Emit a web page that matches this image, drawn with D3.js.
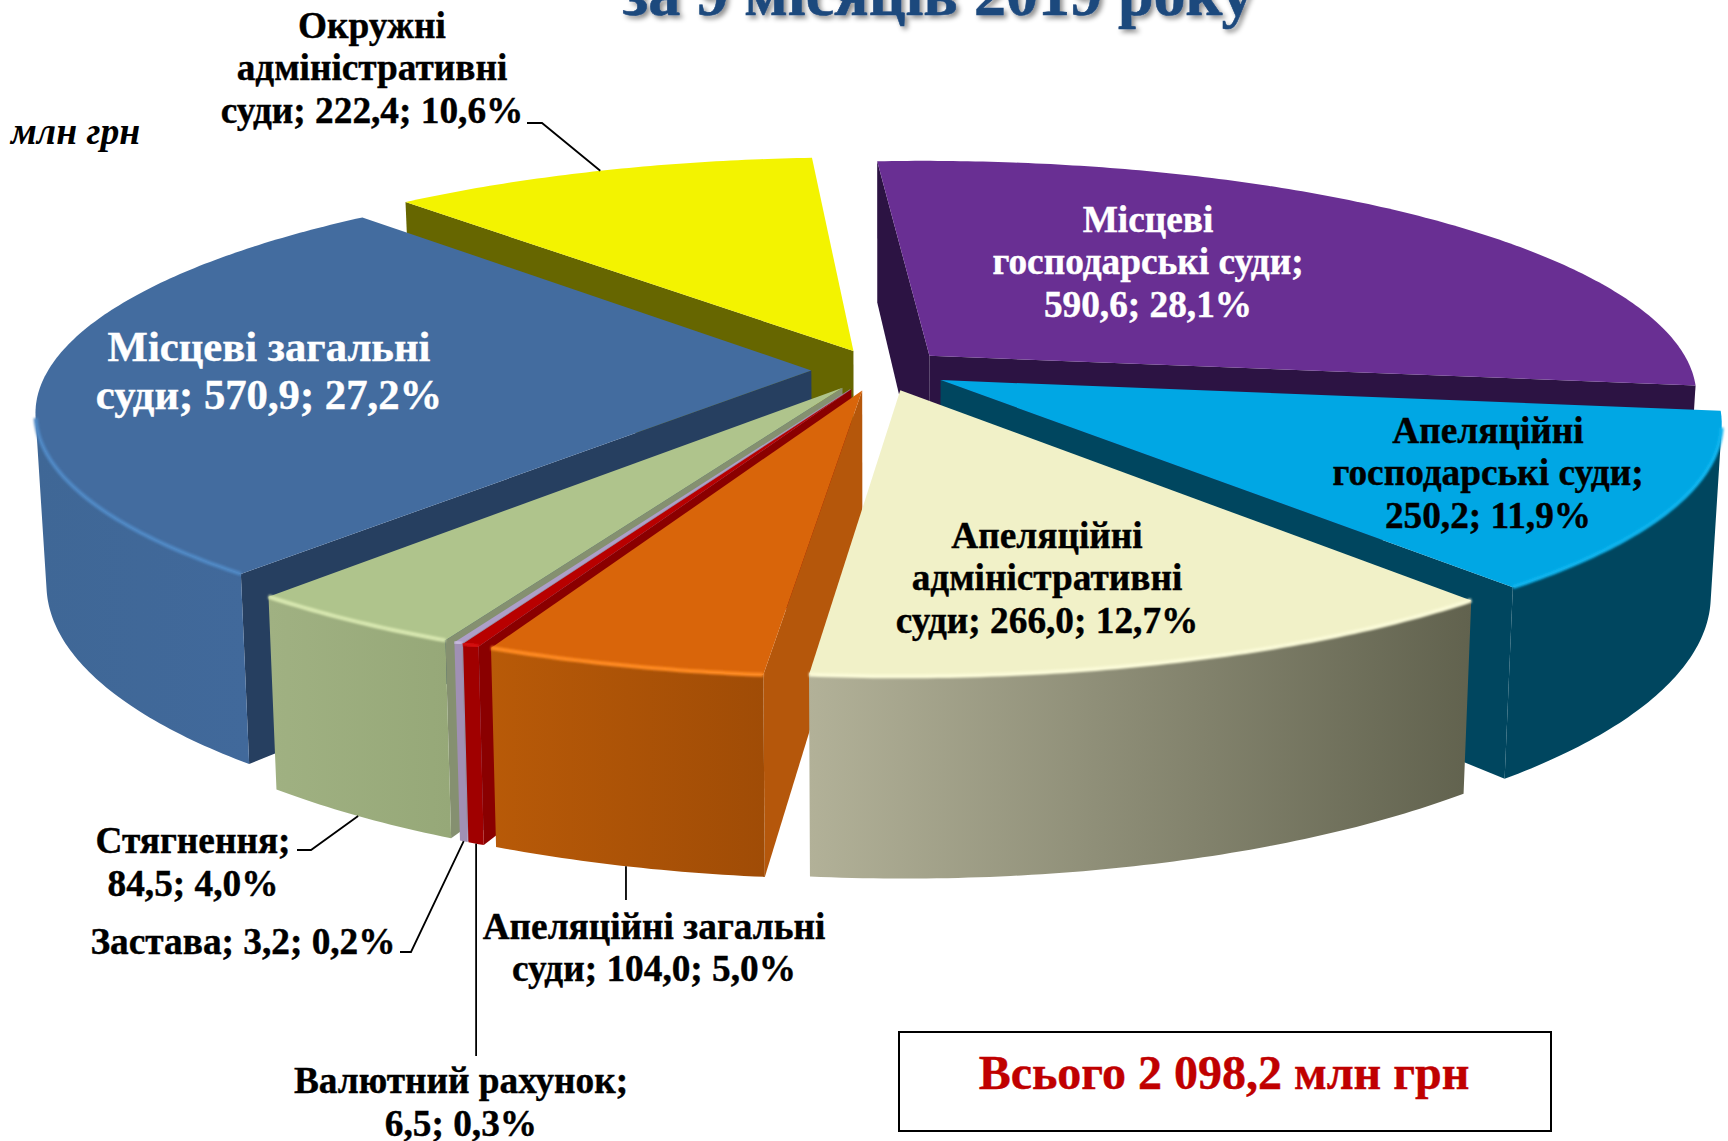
<!DOCTYPE html>
<html>
<head>
<meta charset="utf-8">
<script src="https://cdn.jsdelivr.net/npm/d3@7/dist/d3.min.js"></script>
<style>
html,body{margin:0;padding:0;background:#fff;overflow:hidden}
svg{display:block}
text{font-family:"Liberation Serif","Times New Roman",serif;font-weight:bold}
</style>
</head>
<body>
<svg id="c" width="1728" height="1141"></svg>
<script>
// --- data (in pie order, clockwise) ---
const categories = ["Місцеві господарські суди","Апеляційні господарські суди","Апеляційні адміністративні суди","Апеляційні загальні суди","Валютний рахунок","Застава","Стягнення","Місцеві загальні суди","Окружні адміністративні суди"];
const values     = [590.6,250.2,266.0,104.0,6.5,3.2,84.5,570.9,222.4];
const percents   = ["28,1%","11,9%","12,7%","5,0%","0,3%","0,2%","4,0%","27,2%","10,6%"];
const totalLabel = "Всього 2 098,2 млн грн";
const unitLabel  = "млн грн";
const titleLabel = "за 9 місяців 2019 року";

// --- style ---
const topColors  = ["#692f93","#00a7e4","#f1f1c8","#d9650a","#b80000","#ad9fc8","#afc48c","#436c9f","#f3f300"];
const wallColors = ["#2c1343","#00465f","#b0b095","#b5570b","#8a0000","#9a8cae","#859070","#263f60","#666600"];
const sideLeft   = ["#2c1343","#00465f","#b2b198","#b85a08","#a00000","#a090b4","#a0b182","#3f6796","#666600"];
const sideRight  = ["#2c1343","#00465f","#61624e","#a04c06","#a00000","#a090b4","#96a878","#41699b","#666600"];
const bevelColor = ["#7a3fa8","#10b4ee","#fbfbd8","#ff8a20","#d81010","#c8bce0","#d8e8b0","#5088c4","#ffff40"];
const drawOrder  = [8,0,7,1,6,5,4,3,2];

// --- projection layout ---
const W=1728,H=1141, cx=880, cy=370, Rx=763, Ry=231.5, depth=166, persp=0.165, explode=0.09, taper=0.013;
const firstAngle = -4*Math.PI/180;

const svg = d3.select("#c");
const defs = svg.append("defs");
const blur = defs.append("filter").attr("id","soft").attr("x","-5%").attr("y","-20%").attr("width","110%").attr("height","140%");
blur.append("feGaussianBlur").attr("stdDeviation",1.1);
const shadow = defs.append("filter").attr("id","tshadow").attr("x","-5%").attr("y","-20%").attr("width","110%").attr("height","150%");
shadow.append("feDropShadow").attr("dx",3).attr("dy",3).attr("stdDeviation",2.5).attr("flood-color","#000").attr("flood-opacity",0.45);

const pie = d3.pie().sort(null).startAngle(firstAngle).endAngle(firstAngle+2*Math.PI);
const arcs = pie(values);

function project(X,Y,z){
  const g = 1/(1+persp*Y);
  return [cx + Rx*X*g*(1-taper*z), cy - Ry*Y*g + depth*g*z];
}
function offsetOf(a){const m=(a.startAngle+a.endAngle)/2;return [explode*Math.sin(m),explode*Math.cos(m)];}
function rim(a,t,z){const o=offsetOf(a);return project(o[0]+Math.sin(t),o[1]+Math.cos(t),z);}
function apex(a,z){const o=offsetOf(a);return project(o[0],o[1],z);}
function area(q){return d3.polygonArea(q);}
const line = d3.line().curve(d3.curveLinear);

arcs.forEach((a,i)=>{
  const g = defs.append("linearGradient").attr("id","side"+i).attr("x1",0).attr("x2",1).attr("y1",0).attr("y2",0);
  g.append("stop").attr("offset",0).attr("stop-color",sideLeft[i]);
  g.append("stop").attr("offset",1).attr("stop-color",sideRight[i]);
});

const gPie = svg.append("g");
drawOrder.forEach(i=>{
  const a = arcs[i], n = Math.max(3,Math.ceil((a.endAngle-a.startAngle)/(Math.PI/180)*1.5));
  const ts = d3.range(n+1).map(k=>a.startAngle+(a.endAngle-a.startAngle)*k/n);
  const g = gPie.append("g").attr("class","slice").attr("data-name",categories[i]);

  // radial walls with back-face culling
  const startWall=[apex(a,0),rim(a,a.startAngle,0),rim(a,a.startAngle,1),apex(a,1)];
  const endWall=[rim(a,a.endAngle,0),apex(a,0),apex(a,1),rim(a,a.endAngle,1)];
  [startWall,endWall].forEach(q=>{
    if(area(q)>0) g.append("path").attr("d",line(q)+"Z").attr("fill",wallColors[i]);
  });

  // outer curved side: contiguous front-facing runs
  const runs=[];let run=null;
  for(let k=0;k<n;k++){
    const q=[rim(a,ts[k],0),rim(a,ts[k+1],0),rim(a,ts[k+1],1),rim(a,ts[k],1)];
    if(area(q)>0){ if(!run){run=[ts[k]];runs.push(run);} run.push(ts[k+1]); } else run=null;
  }
  runs.forEach(r=>{
    const poly=r.map(t=>rim(a,t,0)).concat(r.slice().reverse().map(t=>rim(a,t,1)));
    g.append("path").attr("d",line(poly)+"Z").attr("fill","url(#side"+i+")");
  });

  // top face
  const top=[apex(a,0)].concat(ts.map(t=>rim(a,t,0)));
  g.append("path").attr("d",line(top)+"Z").attr("fill",topColors[i]);

  // bevel highlight along the visible upper rim
  runs.forEach(r=>{
    g.append("path").attr("d",line(r.map(t=>rim(a,t,0)))).attr("fill","none")
     .attr("stroke",bevelColor[i]).attr("stroke-width",4).attr("filter","url(#soft)");
  });
});

// --- labels ---
const labelLines = [
 ["Місцеві","господарські суди;","590,6; 28,1%"],
 ["Апеляційні","господарські суди;","250,2; 11,9%"],
 ["Апеляційні","адміністративні","суди; 266,0; 12,7%"],
 ["Апеляційні загальні","суди; 104,0; 5,0%"],
 ["Валютний рахунок;","6,5; 0,3%"],
 ["Застава; 3,2; 0,2%"],
 ["Стягнення;","84,5; 4,0%"],
 ["Місцеві загальні","суди; 570,9; 27,2%"],
 ["Окружні","адміністративні","суди; 222,4; 10,6%"]
];
const labelX     = [1148,1488,1047,654,461,243,193,269,372];
const labelY     = [231.5,442.5,547.5,938.5,1093,953.5,853,361,37.5];
const labelSize  = [37.3,37.3,37.3,37.3,37.3,37.3,37.3,42.7,37.3];
const labelFill  = ["#fff","#000","#000","#000","#000","#000","#000","#fff","#000"];
const labelStep  = [42.5,42.5,42.5,42.5,42.5,42.5,42.5,48,42.5];

const gLab = svg.append("g");
labelLines.forEach((ls,i)=>{
  const t=gLab.append("text").attr("text-anchor","middle").attr("fill",labelFill[i]).attr("font-size",labelSize[i])
    .attr("stroke",labelFill[i]).attr("stroke-width",0.4);
  ls.forEach((s,k)=>t.append("tspan").attr("x",labelX[i]).attr("y",labelY[i]+k*labelStep[i]).text(s));
});

// --- leaders: elbow near label, end anchored on the slice ---
const leaders = [
 {slice:8,frac:0.50,z:0,from:[[527,123],[542,123]]},
 {slice:6,frac:0.50,z:1,from:[[297,850],[311,850]]},
 {slice:5,frac:0.50,z:1,from:[[400,952],[411,952]]},
 {slice:4,frac:0.50,z:1,from:[[475,1056]]},
 {slice:3,frac:0.50,z:1,from:[[625,900]]}
];
leaders.forEach(l=>{
  const a=arcs[l.slice], t=a.startAngle+(a.endAngle-a.startAngle)*l.frac;
  const end=rim(a,t,l.z);
  const pts=l.from.concat([end]);
  if(l.from.length===1) pts[0]=[end[0],l.from[0][1]];
  svg.append("path").attr("d",line(pts)).attr("fill","none").attr("stroke","#000").attr("stroke-width",1.8);
});

// --- title, unit, total ---
svg.append("text").attr("x",938).attr("y",15).attr("text-anchor","middle").attr("font-size",64)
  .attr("fill","#1f497d").attr("stroke","#1f497d").attr("stroke-width",0.6).attr("filter","url(#tshadow)").text(titleLabel);
svg.append("text").attr("x",11).attr("y",144).attr("font-size",37.7).attr("font-style","italic").attr("fill","#000").text(unitLabel);
svg.append("rect").attr("x",899).attr("y",1032).attr("width",652).attr("height",99).attr("fill","#fff").attr("stroke","#000").attr("stroke-width",2);
svg.append("text").attr("x",1224).attr("y",1089).attr("text-anchor","middle").attr("font-size",48).attr("fill","#c00000").attr("stroke","#c00000").attr("stroke-width",0.4).text(totalLabel);
</script>
</body>
</html>
